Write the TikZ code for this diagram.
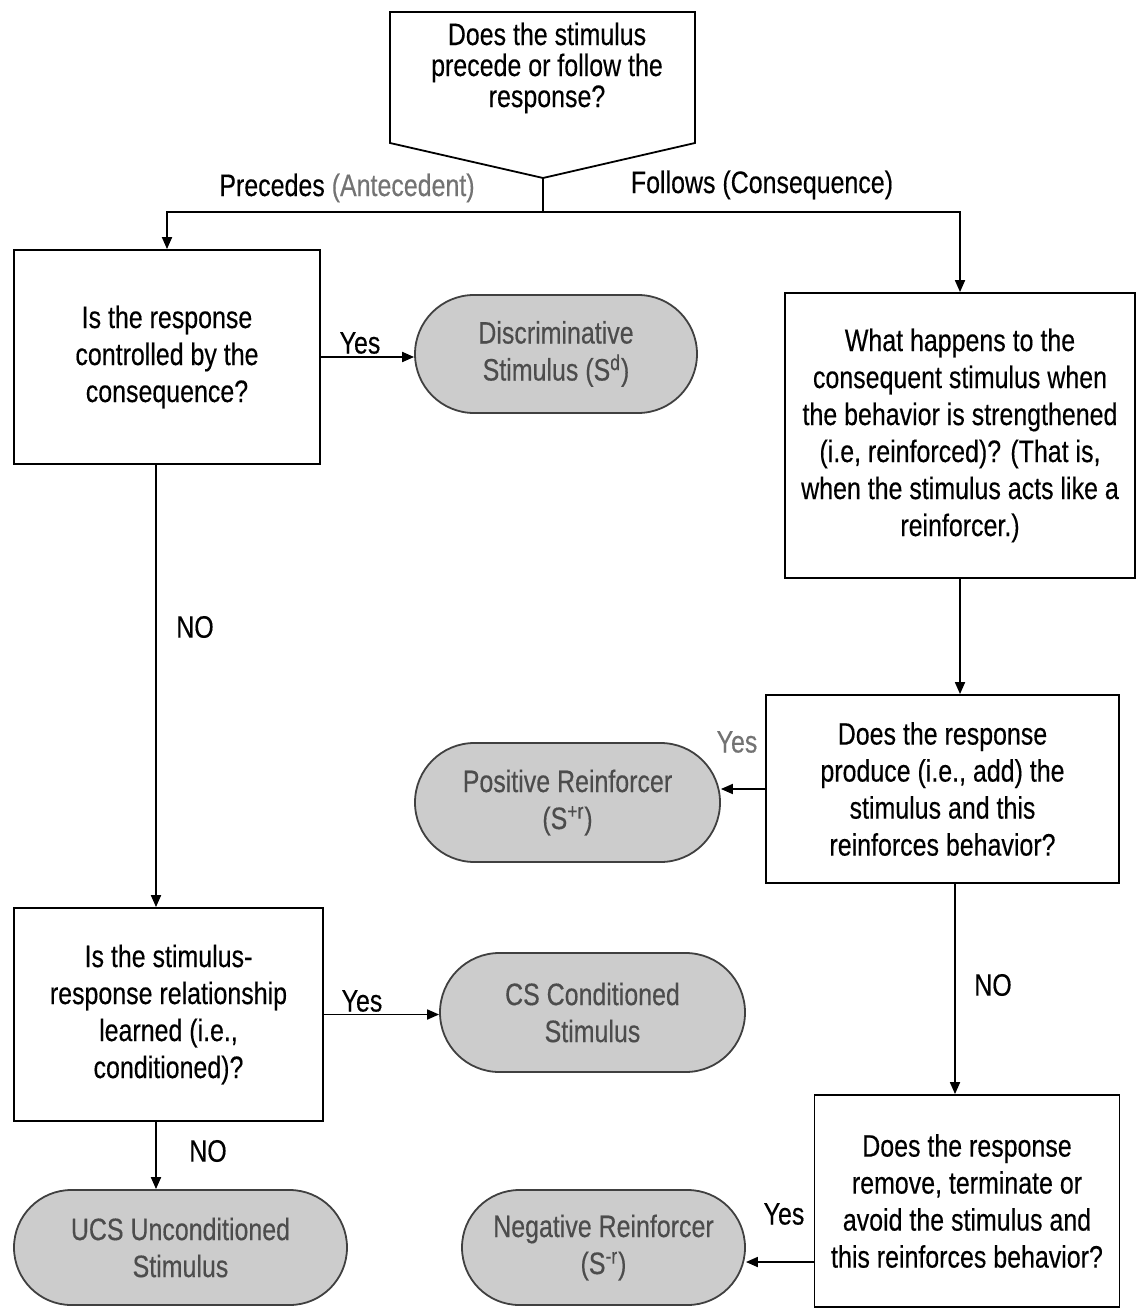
\documentclass[tikz,border=0pt]{standalone}
\usepackage{fontspec}
\setmainfont{Liberation Sans}[FakeStretch=0.805,FakeBold=0.35]
\usetikzlibrary{arrows.meta}
\definecolor{pillfill}{gray}{0.80}
\definecolor{pilltext}{gray}{0.30}
\definecolor{softtext}{gray}{0.45}
\begin{document}
\begin{tikzpicture}[x=0.5pt,y=-0.5pt,
  every node/.style={font=\fontsize{15.5pt}{18.5pt}\selectfont, align=center, inner sep=0pt},
  toptext/.style={font=\fontsize{15.5pt}{15.5pt}\selectfont},
  qbox/.style={draw, line width=0.9pt, rectangle},
  pill/.style={draw=black!75, line width=0.9pt, fill=pillfill, text=pilltext, rectangle},
  conn/.style={line width=0.9pt, -{Triangle[length=6pt,width=5pt]}},
  lbl/.style={}]
\useasboundingbox (0,0) rectangle (1136,1309);

% top pentagon
\coordinate (p1) at (390,12);
\coordinate (p2) at (695,12);
\coordinate (p3) at (695,143);
\coordinate (tip) at (543,178);
\coordinate (p5) at (390,143);
\draw[line width=0.9pt] (p1) -- (p2) -- (p3) -- (tip) -- (p5) -- cycle;
\node[toptext] (q0) at (547,68) {Does the stimulus\\precede or follow the\\response?};

% boxes
\node[qbox, minimum width=153pt, minimum height=107pt] (b1) at (167,357) {Is the response\\controlled by the\\consequence?};
\node[qbox, minimum width=175pt, minimum height=142.5pt] (b2) at (960,435.5) {What happens to the\\consequent stimulus when\\the behavior is strengthened\\(i.e, reinforced)? (That is,\\when the stimulus acts like a\\reinforcer.)};
\node[qbox, minimum width=176.5pt, minimum height=94pt] (b3) at (942.5,789) {Does the response\\produce (i.e., add) the\\stimulus and this\\reinforces behavior?};
\node[qbox, minimum width=152.5pt, minimum height=106pt] (b4) at (967,1201) {Does the response\\remove, terminate or\\avoid the stimulus and\\this reinforces behavior?};
\node[qbox, minimum width=154.5pt, minimum height=106.5pt] (b5) at (168.5,1014.5) {Is the stimulus-\\response relationship\\learned (i.e.,\\conditioned)?};

% pills
\node[pill, minimum width=141pt, minimum height=59pt, rounded corners=29.5pt] (disc) at (556,354) {Discriminative\\Stimulus (S\textsuperscript{d})};
\node[pill, minimum width=152.5pt, minimum height=59.5pt, rounded corners=29.7pt] (pos) at (567.5,802.5) {Positive Reinforcer\\(S\textsuperscript{+r})};
\node[pill, minimum width=152.5pt, minimum height=59.5pt, rounded corners=29.7pt] (cs) at (592.5,1012.5) {CS Conditioned\\Stimulus};
\node[pill, minimum width=166.5pt, minimum height=57.5pt, rounded corners=28.7pt] (ucs) at (180.5,1247.5) {UCS Unconditioned\\Stimulus};
\node[pill, minimum width=141.5pt, minimum height=57.5pt, rounded corners=28.7pt] (neg) at (603.5,1247.5) {Negative Reinforcer\\(S\textsuperscript{-r})};

% connectors
\coordinate (split) at (543,212);
\draw[line width=0.9pt] (tip) -- (split);
\draw[conn] (split) -| (b1.north);
\draw[conn] (split) -| (b2.north);
\draw[conn] (b1.east) -- (b1.east -| disc.west);
\draw[conn] (b2.south) -- (b2.south |- b3.north);
\draw[conn] (b3.west) -- (b3.west -| pos.east);
\draw[conn] (b3.south -| 955,0) -- (b4.north -| 955,0);
\coordinate (b4out) at ([yshift=-30.5pt]b4.west);
\draw[conn] (b4out) -- (b4out -| neg.east);
\draw[conn] (b1.south -| 156,0) -- (b5.north -| 156,0);
\draw[conn] (b5.east) -- (b5.east -| cs.west);
\draw[conn] (b5.south -| 156,0) -- (ucs.north -| 156,0);

% labels
\node[lbl] (lprec) at (347,188) {Precedes \textcolor{softtext}{(Antecedent)}};
\node[lbl] (lfol) at (762,185) {Follows (Consequence)};
\node[lbl] (ly1) at (360,343) {Yes};
\node[lbl] (ln1) at (195,627) {NO};
\node[lbl, text=softtext] (ly2) at (737,742) {Yes};
\node[lbl] (ln2) at (993,985) {NO};
\node[lbl] (ly3) at (362,1001) {Yes};
\node[lbl] (ln3) at (208,1151) {NO};
\node[lbl] (ly4) at (784,1214) {Yes};
\end{tikzpicture}
\end{document}
